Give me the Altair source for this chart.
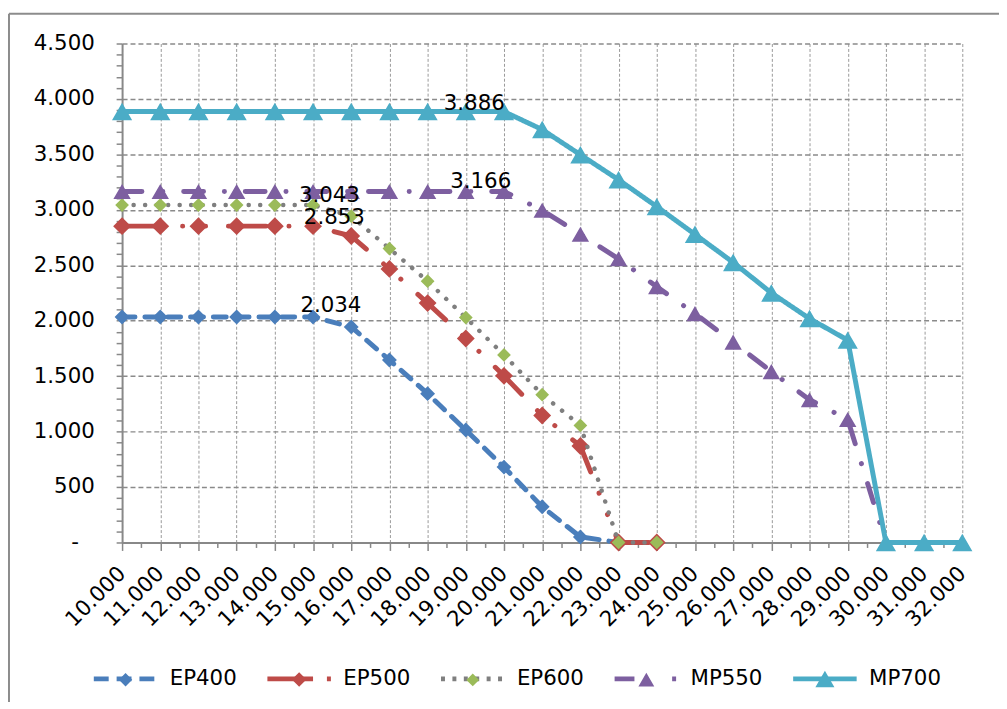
import altair as alt
import pandas as pd

# ---------------- data ----------------
x_values = [10, 11, 12, 13, 14, 15, 16, 17, 18, 19, 20, 21, 22, 23, 24, 25, 26, 27, 28, 29, 30, 31, 32]
series_names = ["EP400", "EP500", "EP600", "MP550", "MP700"]

ep400 = [2034, 2034, 2034, 2034, 2034, 2034, 1944, 1646, 1342, 1014, 680, 322, 50, 0, 0]
ep500 = [2853, 2853, 2853, 2853, 2853, 2853, 2764, 2467, 2159, 1840, 1503, 1145, 870, 0, 0]
ep600 = [3043, 3043, 3043, 3043, 3043, 3043, 2943, 2651, 2356, 2028, 1691, 1333, 1056, 0, 0]
mp550 = [3166, 3166, 3166, 3166, 3166, 3166, 3166, 3166, 3166, 3166, 3166,
         2996, 2780, 2558, 2306, 2064, 1807, 1541, 1288, 1109, 0]
mp700 = [3886, 3886, 3886, 3886, 3886, 3886, 3886, 3886, 3886, 3886, 3886,
         3724, 3497, 3271, 3029, 2779, 2526, 2251, 2019, 1825, 0, 0, 0]
series_values = [ep400, ep500, ep600, mp550, mp700]

label_series = ["EP400", "EP500", "EP600", "MP550", "MP700"]
label_x = [15, 15, 15, 20, 20]
label_y = [2034, 2853, 3043, 3166, 3886]
label_text = ["2.034", "2.853", "3.043", "3.166", "3.886"]

y_ticks = list(range(0, 4501, 100))
x_ticks = [v / 2 for v in range(20, 65)]

# ---------------- styles ----------------
line_colors = ["#4a7ebb", "#be4b48", "#7f7f7f", "#7d5fa0", "#4bacc6"]
marker_colors = ["#4a7ebb", "#be4b48", "#9bbb59", "#7d5fa0", "#4bacc6"]
EXT = "M-1.0,0L1.0,0"
marker_paths = [
    "M0,-0.21L0.21,0L0,0.21L-0.21,0Z" + EXT,
    "M0,-0.23L0.23,0L0,0.23L-0.23,0Z" + EXT,
    "M0,-0.2L0.2,0L0,0.2L-0.2,0Z" + EXT,
    "M0,-0.2165L0.25,0.2165L-0.25,0.2165Z" + EXT,
    "M0,-0.26L0.3,0.26L-0.3,0.26Z" + EXT,
]
marker_sizes = [5102, 6124, 4800, 4900, 4600]
line_widths = [5, 5, 4.5, 5, 5]
plot_dash = [[13, 10], [38, 23, 0.1, 23, 0.1, 23], [0.1, 11.5], [20, 21, 0.1, 21], [1, 0]]
legend_dash = [[15, 8], [46, 14, 4, 10], [4, 7.5], [20, 38, 4, 10], [1, 0]]
label_dx = [18, 21.5, 16.5, -23.5, -30]
label_dy = [-4.6, -2, -3, -3, -1.6]
FONT = "DejaVu Sans"
FS = 21.5

rows = []
for name, vals in zip(series_names, series_values):
    for xv, yv in zip(x_values, vals):
        rows.append({"series": name, "mseries": name, "x": xv, "y": yv})
df = pd.DataFrame(rows)

x_scale = alt.Scale(domain=[10, 32], nice=False, zero=False)
y_scale = alt.Scale(domain=[0, 4500], nice=False, zero=False)

x_axis = alt.Axis(
    values=x_ticks, title=None,
    labelExpr="datum.value % 1 === 0 ? format(datum.value, 'd') + '.000' : ''",
    labelAngle=-45, labelAlign="right", labelBaseline="middle",
    labelFontSize=FS, labelFont=FONT, labelColor="black", labelPadding=20,
    labelOverlap=False, labelFlush=False, labelBound=False,
    tickSize={"condition": {"test": "datum.value % 1 === 0", "value": 8}, "value": 5},
    tickColor="#888888", tickWidth=1.5,
    domainColor="#888888", domainWidth=2,
    grid=True, gridColor="#999999", gridDash=[3, 2], gridWidth=1,
    gridOpacity={"condition": {"test": "datum.value % 1 === 0", "value": 1}, "value": 0},
)
y_axis = alt.Axis(
    values=y_ticks, title=None,
    labelExpr="datum.value % 500 === 0 ? (datum.value === 0 ? '-' : replace(format(datum.value, ','), ',', '.')) : ''",
    labelFontSize=FS, labelFont=FONT, labelColor="black",
    labelPadding={"condition": {"test": "datum.value === 0", "value": 38}, "value": 22},
    labelOverlap=False, labelFlush=False, labelBound=False,
    tickSize=6, tickColor="#888888", tickWidth=1.5,
    domainColor="#888888", domainWidth=2,
    grid=True, gridColor="#8a8a8a", gridDash=[5, 3], gridWidth=1.5,
    gridOpacity={"condition": {"test": "datum.value % 500 === 0", "value": 1}, "value": 0},
)

legend_common = dict(
    title=None, orient="none", legendX=-31, legendY=606, direction="horizontal",
    symbolSize=4096, labelFontSize=FS, labelFont=FONT, labelColor="black",
    labelOffset=10, columnPadding=20, padding=0, labelLimit=300,
)
legend_lines = alt.Legend(symbolType="stroke", symbolStrokeWidth=5, symbolOpacity=1, **legend_common)
legend_markers = alt.Legend(
    labelOpacity=0, symbolOpacity=1, symbolStrokeWidth=5,
    symbolStrokeColor="transparent", zindex=1, **legend_common,
)

stroke_scale = alt.Scale(domain=series_names, range=line_colors)

X = alt.X("x:Q", scale=x_scale, axis=x_axis)
Y = alt.Y("y:Q", scale=y_scale, axis=y_axis)

base = alt.Chart(df)
layers = []
for i, name in enumerate(series_names):
    sub = base.transform_filter(alt.datum.series == name)
    line = sub.mark_line(
        strokeWidth=line_widths[i], strokeDash=plot_dash[i],
        strokeCap="round", strokeJoin="round",
    ).encode(
        x=X, y=Y,
        stroke=alt.Stroke("series:N", scale=stroke_scale, legend=legend_lines),
    )
    pts = sub.mark_point(
        filled=True, size=marker_sizes[i], opacity=1, strokeWidth=0,
    ).encode(
        x=X, y=Y,
        color=alt.Color("mseries:N", scale=alt.Scale(range=marker_colors), legend=legend_markers),
        shape=alt.Shape("mseries:N", scale=alt.Scale(range=marker_paths), legend=legend_markers),
    )
    layers += [line, pts]

# legend-only layer carrying the dash patterns of the legend symbols
legend_layer = base.transform_filter("false").mark_line().encode(
    x=X, y=Y,
    stroke=alt.Stroke("series:N", scale=stroke_scale, legend=legend_lines),
    strokeDash=alt.StrokeDash("series:N", scale=alt.Scale(domain=series_names, range=legend_dash),
                              legend=legend_lines),
)
layers.append(legend_layer)

label_df = pd.DataFrame({"series": label_series, "x": label_x, "y": label_y, "text": label_text})
for i in range(len(label_text)):
    t = alt.Chart(label_df.iloc[[i]]).mark_text(
        font=FONT, fontSize=FS, color="black", align="center", baseline="alphabetic",
        dx=label_dx[i], dy=label_dy[i],
    ).encode(x=X, y=Y, text="text:N")
    layers.append(t)

frame_data = alt.Data(values=[{"k": 1}])
frame_top = alt.Chart(frame_data).mark_rule(color="#8c8c8c", strokeWidth=2).encode(
    x=alt.value(-114), x2=alt.value(950), y=alt.value(-30))
frame_left = alt.Chart(frame_data).mark_rule(color="#8c8c8c", strokeWidth=2).encode(
    x=alt.value(-114), y=alt.value(-30), y2=alt.value(720))
layers += [frame_top, frame_left]

chart = alt.layer(*layers).properties(
    width=847, height=503,
    padding={"left": 115, "top": 33, "right": 37, "bottom": 158},
    autosize=alt.AutoSizeParams(type="none"),
    background="white",
).configure(font=FONT).configure_view(stroke=None)

chart.save("out.html", embed_options={"renderer": "svg", "actions": False})
